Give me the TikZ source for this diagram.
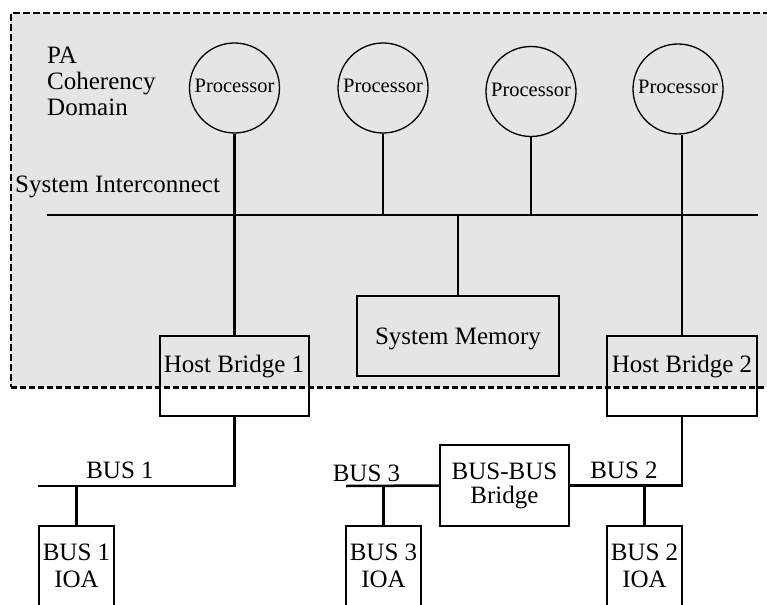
\documentclass[tikz,border=0pt]{standalone}
\usepackage{fontspec}
\setmainfont{Liberation Serif}
\begin{document}
\begin{tikzpicture}[x=1pt,y=-1pt,
  font=\fontsize{25}{26}\selectfont,
  wire/.style={line width=2.5pt},
  boxnode/.style={draw, line width=2.5pt, inner sep=0pt, align=center},
  proc/.style={circle, draw, line width=1.3pt, minimum size=90pt, inner sep=0pt,
               text depth=4pt, font=\fontsize{20.5}{22}\selectfont},
  lbl/.style={inner sep=0pt},
  domainfill/.style={fill={rgb,255:red,229;green,229;blue,229}},
  domainedge/.style={line width=1.3pt, dash pattern=on 7pt off 3pt},
  domainbottom/.style={line width=3pt, dash pattern=on 6pt off 3pt}]
\clip (0,0) rectangle (767,604);
% coherency domain
\fill[domainfill] (11,13) rectangle (790,387);
\draw[domainedge] (790,13) -- (11,13) -- (11,387);
\draw[domainbottom] (11,387) -- (790,387);

\node[lbl, anchor=north west, align=left] (pa) at (47,46.5) {PA\\Coherency\\Domain};
\node[lbl, anchor=base west] (si) at (15,192) {System Interconnect};

% processors
\node[proc] (p1) at (234.5,88) {Processor};
\node[proc] (p2) at (383,88) {Processor};
\node[proc] (p3) at (531,91.5) {Processor};
\node[proc] (p4) at (678,89) {Processor};

% interconnect
\coordinate (busL) at (47,215);
\coordinate (busR) at (758,215);
\draw[wire] (busL) -- (busR);

% boxes
\node[boxnode, minimum width=202pt, minimum height=80pt, text depth=0pt] (mem) at (458,336) {System Memory};
\node[boxnode, minimum width=149pt, minimum height=80pt] (hb1) at (234.5,376) {};
\node[lbl, anchor=base] (hb1t) at (234,372) {Host Bridge 1};
\node[boxnode, minimum width=150pt, minimum height=80pt] (hb2) at (682,376) {};
\node[lbl, anchor=base] (hb2t) at (682,372) {Host Bridge 2};

\node[boxnode, minimum width=129pt, minimum height=81pt, font=\fontsize{25}{24}\selectfont] (bbb) at (504.5,485.5) {BUS-BUS\\Bridge};

\node[boxnode, minimum width=75pt, minimum height=80pt, font=\fontsize{25}{27}\selectfont] (ioa1) at (76.5,566) {BUS 1\\IOA};
\node[boxnode, minimum width=75pt, minimum height=80pt, font=\fontsize{25}{27}\selectfont] (ioa3) at (383.5,566) {BUS 3\\IOA};
\node[boxnode, minimum width=75pt, minimum height=80pt, font=\fontsize{25}{27}\selectfont] (ioa2) at (644.5,566) {BUS 2\\IOA};

% processor connections
\draw[wire] (p1.south) -- (hb1.north);
\draw[wire] (p2.south) -- (p2.south |- busL);
\draw[wire] (p3.south) -- (p3.south |- busL);
\draw[wire] (hb2.north |- p4.south) -- (hb2.north);
\draw[wire] (mem.north) -- (mem.north |- busL);

% lower buses
\coordinate (bus1L) at (38,486);
\coordinate (bus3L) at (346,486);
\draw[wire] (hb1.south) |- (bus1L);
\draw[wire] (ioa1.north) -- (ioa1.north |- bus1L);
\draw[wire] (bus3L) -- (bbb.west);
\draw[wire] (ioa3.north) -- (ioa3.north |- bus3L);
\draw[wire] (bbb.east) -| (hb2.south);
\draw[wire] (ioa2.north) -- (ioa2.north |- bbb.east);

\node[lbl, anchor=base] (b1) at (120,478) {BUS 1};
\node[lbl, anchor=base] (b3) at (366.5,481) {BUS 3};
\node[lbl, anchor=base] (b2) at (624,478) {BUS 2};
\end{tikzpicture}
\end{document}
